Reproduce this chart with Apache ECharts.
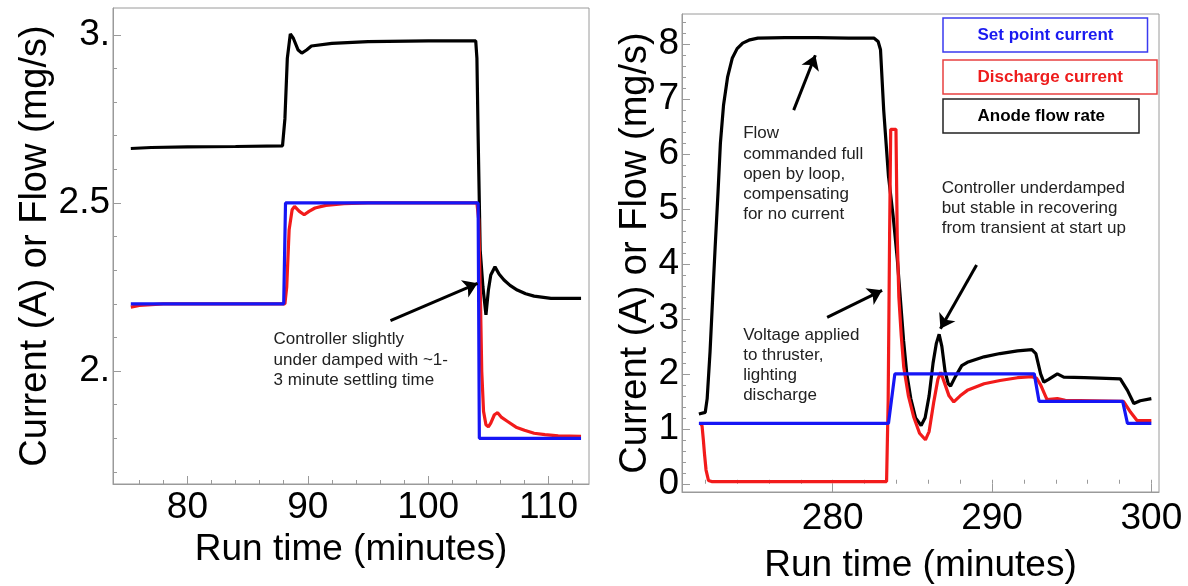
<!DOCTYPE html>
<html><head><meta charset="utf-8">
<script src="https://cdn.jsdelivr.net/npm/echarts@6/dist/echarts.min.js"></script>
<style>html,body{margin:0;padding:0;background:#fff}#c{width:1188px;height:586px}</style>
</head><body><div id="c"></div>
<script>
// ---------- Left panel: [run time (min), value] ----------
const leftSetPoint = [[75.3,2.2],[88.0,2.2],[88.15,2.5],[104.15,2.5],[104.25,1.8],[112.7,1.8]];
const leftDischarge = [[75.3,2.19],[76,2.195],[78,2.2],[88.1,2.2],[88.25,2.25],[88.45,2.42],[88.7,2.48],[88.9,2.49],[89.3,2.475],[89.7,2.465],[90.1,2.475],[90.6,2.485],[91.5,2.493],[93,2.498],[95,2.5],[104.05,2.5],[104.2,2.45],[104.35,2.2],[104.45,2.0],[104.6,1.88],[104.8,1.84],[105.0,1.834],[105.2,1.845],[105.5,1.87],[105.77,1.876],[106.1,1.862],[106.6,1.85],[107.3,1.833],[108.0,1.824],[108.8,1.815],[109.7,1.811],[110.8,1.807],[112.7,1.806]];
const leftFlow = [[75.3,2.662],[77,2.665],[80,2.667],[84,2.668],[87.9,2.67],[88.1,2.75],[88.3,2.93],[88.55,3.003],[88.8,2.99],[89.2,2.955],[89.5,2.946],[89.9,2.955],[90.3,2.967],[92,2.975],[95,2.98],[100,2.982],[103.95,2.982],[104.05,2.93],[104.15,2.7],[104.25,2.5],[104.32,2.36],[104.55,2.25],[104.8,2.167],[105.0,2.24],[105.2,2.286],[105.55,2.31],[105.9,2.288],[106.3,2.271],[106.8,2.255],[107.4,2.241],[108.1,2.23],[108.8,2.223],[110.2,2.216],[112.7,2.216]];
const leftXTicks = [80,90,100,110];
const leftXMinor = [76,78,80,82,84,86,88,90,92,94,96,98,100,102,104,106,108,110,112];
const leftYTicks = [2,2.5,3];
const leftYMinor = [1.7,1.8,1.9,2.0,2.1,2.2,2.3,2.4,2.5,2.6,2.7,2.8,2.9,3.0];

// ---------- Right panel ----------
const rightSetPoint = [[271.6,1.1],[283.5,1.1],[283.9,2.0],[292.65,2.0],[292.95,1.5],[298.2,1.5],[298.5,1.1],[300,1.1]];
const rightDischarge = [[271.7,1.1],[271.8,1.05],[271.88,0.8],[271.95,0.55],[272.05,0.25],[272.2,0.06],[272.4,0.04],[283.38,0.04],[283.48,1.5],[283.57,4.5],[283.64,6.45],[283.97,6.45],[284.05,4.5],[284.15,3.4],[284.3,2.7],[284.46,2.12],[284.75,1.6],[285.09,1.21],[285.45,0.92],[285.82,0.8],[286.05,0.95],[286.35,1.5],[286.6,1.9],[286.78,2.03],[287.0,1.85],[287.3,1.6],[287.6,1.49],[288.0,1.6],[288.45,1.7],[289.5,1.82],[290.5,1.88],[291.6,1.93],[292.5,1.95],[292.8,1.92],[293.05,1.8],[293.45,1.53],[294.1,1.55],[294.6,1.52],[298.25,1.5],[298.7,1.3],[299.1,1.15],[300,1.15]];
const rightFlow = [[271.6,1.27],[272.0,1.3],[272.12,1.55],[272.3,2.4],[272.5,3.6],[272.62,4.3],[272.8,5.3],[272.95,6.2],[273.15,6.9],[273.4,7.4],[273.7,7.75],[274.0,7.92],[274.35,8.02],[274.8,8.08],[275.3,8.11],[277,8.12],[279,8.12],[281,8.11],[282.6,8.11],[282.85,8.05],[283.0,7.9],[283.2,6.8],[283.5,5.6],[283.8,4.85],[284.05,4.1],[284.25,3.35],[284.45,2.6],[284.65,2.0],[284.9,1.55],[285.2,1.2],[285.55,1.06],[285.8,1.2],[286.05,1.6],[286.3,2.2],[286.5,2.55],[286.68,2.72],[286.85,2.5],[287.05,2.05],[287.25,1.82],[287.4,1.78],[287.7,1.95],[288.1,2.15],[288.45,2.21],[289.5,2.31],[290.5,2.37],[291.6,2.42],[292.5,2.44],[292.75,2.37],[293.05,2.0],[293.25,1.85],[293.55,1.9],[294.1,2.0],[294.5,1.94],[295.8,1.93],[298.05,1.91],[298.5,1.7],[298.9,1.46],[299.3,1.51],[300,1.55]];
const rightXTicks = [280,290,300];
const rightXMinor = [272,274,276,278,280,282,284,286,288,290,292,294,296,298,300];
const rightYTicks = [0,1,2,3,4,5,6,7,8];
const rightYMinor = [0,0.2,0.4,0.6,0.8,1,1.2,1.4,1.6,1.8,2,2.2,2.4,2.6,2.8,3,3.2,3.4,3.6,3.8,4,4.2,4.4,4.6,4.8,5,5.2,5.4,5.6,5.8,6,6.2,6.4,6.6,6.8,7,7.2,7.4,7.6,7.8,8,8.2,8.4];

// ---------- Annotations (data coordinates) ----------
const leftArrow = [[96.87,2.15],[104.1,2.261]];
const leftNote = {at:[87.2,2.122], text:'Controller slightly\nunder damped with ~1-\n3 minute settling time'};
const rightArrows = [[[277.55,6.80],[278.91,7.80]], [[279.65,3.03],[283.10,3.52]], [[289.03,3.98],[286.76,2.82]]];
const rightNotes = [
  {at:[274.41,6.545], text:'Flow\ncommanded full\nopen by loop,\ncompensating\nfor no current'},
  {at:[274.41,2.883], text:'Voltage applied\nto thruster,\nlighting\ndischarge'},
  {at:[286.87,5.556], text:'Controller underdamped\nbut stable in recovering\nfrom transient at start up'}
];

const names = ['Set point current','Discharge current','Anode flow rate'];
const colors = {sp:'#1616f5', dc:'#f21b1b', fl:'#000000'};
const FONT = '"Liberation Sans", Arial, Helvetica, sans-serif';
const AX = '#9a9a9a';

function mainX(grid, min, max, ticks, gap, margin){
  return {type:'value', gridIndex:grid, min:min, max:max, position:'bottom',
    splitLine:{show:false},
    axisLine:{show:true, onZero:false, lineStyle:{color:AX, width:1}},
    axisTick:{show:true, inside:true, length:8, customValues:ticks, lineStyle:{color:AX}},
    axisLabel:{show:true, customValues:ticks, margin:margin, color:'#000', fontSize:37, fontFamily:FONT},
    name:'Run time (minutes)', nameLocation:'middle', nameGap:gap,
    nameTextStyle:{color:'#000', fontSize:37, fontFamily:FONT}};
}
function minorX(grid, min, max, ticks){
  return {type:'value', gridIndex:grid, min:min, max:max, position:'bottom',
    splitLine:{show:false}, axisLine:{show:false},
    axisTick:{show:true, inside:true, length:4, customValues:ticks, lineStyle:{color:AX}},
    axisLabel:{show:false}};
}
function mainY(grid, min, max, ticks, gap, fmt){
  return {type:'value', gridIndex:grid, min:min, max:max, position:'left',
    splitLine:{show:false},
    axisLine:{show:true, onZero:false, lineStyle:{color:AX, width:1}},
    axisTick:{show:true, inside:true, length:8, customValues:ticks, lineStyle:{color:AX}},
    axisLabel:{show:true, customValues:ticks, margin:3, color:'#000', fontSize:37, fontFamily:FONT, formatter:fmt},
    name:'Current (A) or Flow (mg/s)', nameLocation:'middle', nameGap:gap,
    nameTextStyle:{color:'#000', fontSize:38, fontFamily:FONT}};
}
function minorY(grid, min, max, ticks){
  return {type:'value', gridIndex:grid, min:min, max:max, position:'left',
    splitLine:{show:false}, axisLine:{show:false},
    axisTick:{show:true, inside:true, length:4, customValues:ticks, lineStyle:{color:AX}},
    axisLabel:{show:false}};
}
function line(name, data, color, xi, yi, z){
  return {name:name, type:'line', data:data, xAxisIndex:xi, yAxisIndex:yi, z:z,
    showSymbol:false, symbol:'none', smooth:false, silent:true,
    lineStyle:{color:color, width:3.2}, itemStyle:{color:color}};
}
function arrows(list){
  return {silent:true, symbol:['none','arrow'], symbolSize:14, animation:false,
    label:{show:false}, lineStyle:{type:'solid', color:'#000', width:3},
    emphasis:{disabled:true},
    data:list.map(a => [{coord:a[0]}, {coord:a[1]}])};
}
function notes(list){
  return {silent:true, animation:false,
    data:list.map(n => ({coord:n.at, symbol:'circle', symbolSize:1, itemStyle:{color:'rgba(0,0,0,0)'},
      label:{show:true, position:[0,0], align:'left', verticalAlign:'top', formatter:n.text,
        color:'#222', fontSize:17, lineHeight:20.2, fontFamily:FONT}}))};
}
function legendBox(top, name, color, border){
  return {show:true, left:943, top:top, orient:'horizontal', selectedMode:false,
    icon:'none', itemWidth:0, itemHeight:17, padding:[8.5,34,8.5,29.5],
    borderColor:border, borderWidth:1.5, backgroundColor:'#fff',
    textStyle:{fontSize:17, fontWeight:'bold', fontFamily:FONT, color:color},
    data:[{name:name, textStyle:{color:color}}]};
}
const fmtLeft = v => (Math.abs(v - Math.round(v)) < 1e-9 ? Math.round(v) + '.' : String(v));

const lFlow = line(names[2], leftFlow, colors.fl, 0, 0, 2);
lFlow.markLine = arrows([leftArrow]);
lFlow.markPoint = notes([leftNote]);
const rFlow = line(names[2], rightFlow, colors.fl, 2, 2, 2);
rFlow.markLine = arrows(rightArrows);
rFlow.markPoint = notes(rightNotes);

const chart = echarts.init(document.getElementById('c'), null, {renderer:'canvas'});
chart.setOption({
  animation:false,
  backgroundColor:'#ffffff',
  grid:[
    {left:113, top:8, width:476, height:476, show:true, borderColor:AX, borderWidth:1, backgroundColor:'transparent', containLabel:false, outerBoundsMode:'none'},
    {left:682, top:14, width:477, height:478, show:true, borderColor:AX, borderWidth:1, backgroundColor:'transparent', containLabel:false, outerBoundsMode:'none'}
  ],
  xAxis:[
    mainX(0, 73.82, 113.36, leftXTicks, 37, 5),
    minorX(0, 73.82, 113.36, leftXMinor),
    mainX(1, 270.54, 300.48, rightXTicks, 55, 8),
    minorX(1, 270.54, 300.48, rightXMinor)
  ],
  yAxis:[
    mainY(0, 1.664, 3.08, leftYTicks, 58, fmtLeft),
    minorY(0, 1.664, 3.08, leftYMinor),
    mainY(1, -0.15, 8.55, rightYTicks, 27, v => String(v)),
    minorY(1, -0.15, 8.55, rightYMinor)
  ],
  legend:[
    legendBox(18, names[0], '#1a1af0', '#3a3af0'),
    legendBox(60, names[1], '#ee1c1c', '#e84040'),
    legendBox(99, names[2], '#000000', '#222222')
  ],
  series:[
    lFlow,
    line(names[1], leftDischarge, colors.dc, 0, 0, 3),
    line(names[0], leftSetPoint, colors.sp, 0, 0, 4),
    rFlow,
    line(names[1], rightDischarge, colors.dc, 2, 2, 3),
    line(names[0], rightSetPoint, colors.sp, 2, 2, 4)
  ]
});
</script>
</body></html>
